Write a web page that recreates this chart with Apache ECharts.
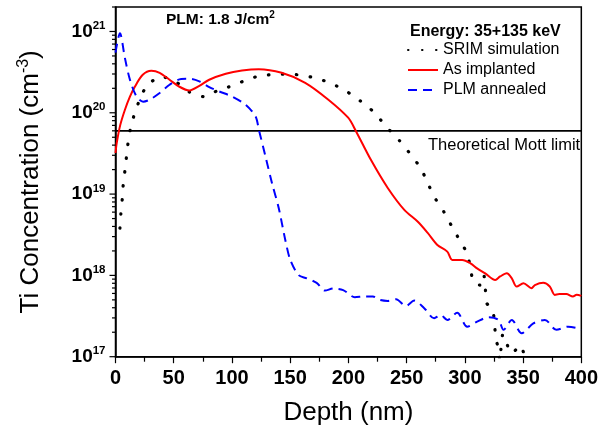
<!DOCTYPE html>
<html>
<head>
<meta charset="utf-8">
<script src="https://cdn.jsdelivr.net/npm/echarts@6/dist/echarts.min.js"></script>
<style>html,body{margin:0;padding:0;background:#fff}#c{width:601px;height:432px}</style>
</head>
<body>
<div id="c"></div>
<script>
// ---- data (depth in nm, concentration in cm^-3) ----
const srimDepth = [3.8,4.6,5.8,6.6,8.1,9.5,10.9,13.2,16.6,20.9,27.1,39.4,51.3,63.5,75.6,87.9,100.3,112.3,124.5,136.7,149.2,161.4,173.6,186.1,198,210.2,221.9,232.7,243.8,253.7,262.2,267.9,273.6,282.1,288.6,295.4,302,304.8,307.1,312.8,316.2,317.6,318.5,324.1,325.6,326.7,328.4,330,332.6,340,348.2,355];
const srimConc  = [3.8e18,5.7e18,8.7e18,1.29e19,1.95e19,2.95e19,4.4e19,6.8e19,1.0e20,1.47e20,2.2e20,2.8e20,2.43e20,1.8e20,1.58e20,1.88e20,2.15e20,2.53e20,2.87e20,2.96e20,2.99e20,2.87e20,2.64e20,2.27e20,1.85e20,1.40e20,1.02e20,6.7e19,4.55e19,3.04e19,2.08e19,1.39e19,9.3e18,6.0e18,4.06e18,2.73e18,1.87e18,1.23e18,8.4e17,7.6e17,1.03e18,6.9e17,4.6e17,3.7e17,2.4e17,1.6e17,1.35e17,0.9e17,1.9e17,1.1e17,1.38e17,0.5e17];

const implDepth = [0,1,4,8.1,12.3,16.6,23.4,30.8,37.9,46.4,54.9,63.5,72,80.5,94.7,108.6,123,142.7,162.9,182.8,199.8,206.6,219.3,233.8,248,259.4,267.9,276.4,284.9,289.2,297.7,304.8,310.5,317.5,326.1,330.3,336,340.3,344.5,350.3,357.3,360.1,367.3,372.9,377.2,381,387.1,392.8,396,400];
const implConc  = [3.2e19,4.2e19,7.0e19,1.09e20,1.57e20,2.09e20,2.93e20,3.28e20,3.1e20,2.55e20,2.09e20,1.88e20,2.14e20,2.55e20,3.02e20,3.31e20,3.44e20,3.1e20,2.34e20,1.45e20,8.7e19,5.9e19,2.64e19,1.19e19,6.4e18,4.6e18,3.36e18,2.37e18,1.96e18,1.55e18,1.55e18,1.41e18,1.22e18,1.06e18,8.8e17,9.7e17,1.06e18,9.2e17,7.3e17,8.0e17,6.95e17,7.6e17,8.1e17,7.3e17,5.75e17,5.9e17,5.9e17,5.5e17,5.8e17,5.6e17];

const plmDepth = [0,3.8,8.1,12.4,18.1,23.7,29.4,37.9,46.4,56.4,63.5,72,80.5,89,100.3,111.8,120.3,123.1,128.8,134.4,140.1,145.8,150.1,157.2,164.2,172.7,179.9,187,195.5,205.5,214,221,226.7,233.8,240.9,249.4,256.6,265.1,273.6,279.2,284.9,293.4,302,310.5,320.4,328.9,333.2,340.3,348.8,358.8,368.7,378.6,388.6,397.1,400];
const plmConc  = [5.5e20,9.5e20,4.7e20,2.55e20,1.58e20,1.37e20,1.45e20,1.75e20,2.21e20,2.6e20,2.62e20,2.43e20,2.07e20,1.83e20,1.58e20,1.25e20,9.0e19,6.2e19,2.9e19,1.36e19,6.8e18,2.73e18,1.55e18,1.01e18,9.2e17,8.1e17,6.5e17,6.9e17,6.6e17,5.4e17,5.5e17,5.5e17,5.0e17,4.85e17,5.1e17,4.2e17,4.9e17,3.95e17,2.97e17,3.26e17,2.83e17,3.48e17,2.34e17,2.7e17,3.05e17,2.83e17,2.14e17,2.83e17,1.94e17,2.57e17,2.83e17,2.14e17,2.34e17,2.24e17,2.14e17];

const mottLimit = 6e19;
const mottDepth = [0, 400];

const yTickExps = [17, 18, 19, 20, 21];
const yMinorMults = [2, 3, 4, 5, 6, 7, 8, 9];
const xTickLabels = [0, 50, 100, 150, 200, 250, 300, 350, 400];

const seriesNames = ['SRIM simulation', 'As implanted', 'PLM annealed'];

// ---- build ----
const zip = (a, b) => a.map((v, i) => [v, b[i]]);
const tickData = [];
yTickExps.forEach(e => {
  tickData.push([0, Math.pow(10, e), 6]);
  if (e < 21) yMinorMults.forEach(m => tickData.push([0, m * Math.pow(10, e), 3.5]));
});
tickData.push([0, 2e21, 3.5]);

const FONT = 'Liberation Sans, Arial, sans-serif';
const chart = echarts.init(document.getElementById('c'), null, {renderer: 'canvas'});
chart.setOption({
  animation: false,
  backgroundColor: '#fff',
  textStyle: {fontFamily: FONT},
  grid: {left: 115.5, right: 16, top: 7, bottom: 75.3, show: true, borderColor: '#000', borderWidth: 1.5, backgroundColor: 'transparent'},
  title: [
    {text: '{a|PLM: 1.8 J/cm}{s|2}', left: 161, top: 5,
     textStyle: {rich: {a: {fontSize: 15.5, fontWeight: 'bold', color: '#000', fontFamily: FONT},
                         s: {fontSize: 10, fontWeight: 'bold', color: '#000', fontFamily: FONT, padding: [0, 0, 9, 0]}}}},
    {text: 'Energy: 35+135 keV', left: 405, top: 19,
     textStyle: {fontSize: 16, fontWeight: 'bold', color: '#000', fontFamily: FONT}},
    {text: 'Theoretical Mott limit', left: 423, top: 132,
     textStyle: {fontSize: 16.5, fontWeight: 'normal', color: '#000', fontFamily: FONT}}
  ],
  legend: {
    data: seriesNames, orient: 'vertical', left: 402, top: 36,
    itemWidth: 30, itemHeight: 10, itemGap: 2, selectedMode: false,
    itemStyle: {opacity: 0},
    textStyle: {fontSize: 16, color: '#000', fontFamily: FONT, lineHeight: 18}
  },
  xAxis: {
    type: 'value', min: 0, max: 400, interval: 50,
    name: 'Depth (nm)', nameLocation: 'middle', nameGap: 43,
    nameTextStyle: {fontSize: 26, color: '#000', fontFamily: FONT},
    axisLine: {show: true, lineStyle: {color: '#000', width: 1.5}},
    axisTick: {show: true, inside: false, length: 6.5, lineStyle: {color: '#000', width: 1.2}},
    minorTick: {show: true, splitNumber: 2, length: 5, lineStyle: {color: '#000', width: 1.2}},
    splitLine: {show: false},
    axisLabel: {margin: 12, fontSize: 20, fontWeight: 'bold', color: '#000', fontFamily: FONT,
      formatter: v => xTickLabels.indexOf(v) >= 0 ? String(v) : ''}
  },
  yAxis: {
    type: 'log', logBase: 10, min: 1e17, max: 2e21,
    name: 'Ti Concentration (cm{s|-3})', nameLocation: 'middle', nameGap: 70,
    nameTextStyle: {fontSize: 26, color: '#000', fontFamily: FONT,
      rich: {s: {fontSize: 16, color: '#000', fontFamily: FONT, padding: [0, 0, 14, 0]}}},
    axisLine: {show: true, lineStyle: {color: '#000', width: 1.5}},
    axisTick: {show: false},
    splitLine: {show: false},
    axisLabel: {margin: 10, color: '#000', fontFamily: FONT,
      formatter: v => {
        const e = Math.log10(v);
        const r = Math.round(e);
        if (Math.abs(e - r) > 1e-6 || yTickExps.indexOf(r) < 0) return '';
        return '{b|10}{s|' + r + '}';
      },
      rich: {b: {fontSize: 19, fontWeight: 'bold', color: '#000', fontFamily: FONT},
             s: {fontSize: 11.5, fontWeight: 'bold', color: '#000', fontFamily: FONT, padding: [0, 0, 11, 0]}}}
  },
  series: [
    {name: 'Mott', type: 'line', data: mottDepth.map(d => [d, mottLimit]), showSymbol: false, symbol: 'none',
     silent: true, lineStyle: {color: '#000', width: 1.8}, z: 1},
    {name: seriesNames[0], type: 'line', data: zip(srimDepth, srimConc), symbol: 'none', smooth: 0.15,
     color: '#000', lineStyle: {color: '#000', width: 3.2, type: [0.5, 13.5], cap: 'round'}, z: 3},
    {name: seriesNames[1], type: 'line', data: zip(implDepth, implConc), symbol: 'none', smooth: 0.3,
     color: '#ff0000', lineStyle: {color: '#ff0000', width: 2}, z: 4},
    {name: seriesNames[2], type: 'line', data: zip(plmDepth, plmConc), symbol: 'none', smooth: 0.3,
     color: '#0000ff', lineStyle: {color: '#0000ff', width: 2, type: [9, 6]}, z: 5},
    {name: 'yticks', type: 'custom', data: tickData, clip: false, silent: true, z: 6,
     renderItem: (params, api) => {
       const p = api.coord([api.value(0), api.value(1)]);
       const len = api.value(2);
       return {type: 'line', shape: {x1: p[0] - len, y1: p[1], x2: p[0], y2: p[1]},
               style: {stroke: '#000', lineWidth: 1.2}};
     }}
  ]
});
</script>
</body>
</html>
